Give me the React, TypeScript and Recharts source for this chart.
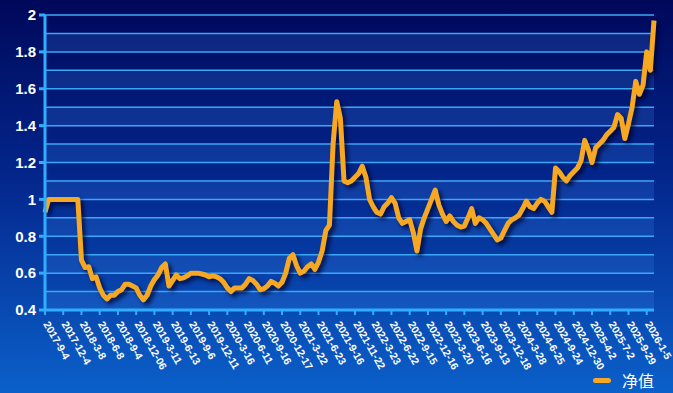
import { LineChart, Line, XAxis, YAxis, ReferenceLine, ReferenceArea, Legend } from 'recharts';

const dateLabels = [
  '2017-9-4', '2017-12-4', '2018-3-8', '2018-6-8', '2018-9-4', '2018-12-06',
  '2019-3-11', '2019-6-13', '2019-9-6', '2019-12-11', '2020-3-16', '2020-6-11',
  '2020-9-16', '2020-12-17', '2021-3-22', '2021-6-23', '2021-9-16', '2021-11-22',
  '2022-3-23', '2022-6-22', '2022-9-15', '2022-12-16', '2023-3-20', '2023-6-16',
  '2023-9-13', '2023-12-18', '2024-3-28', '2024-6-25', '2024-9-24', '2024-12-30',
  '2025-4-2', '2025-7-2', '2025-9-29', '2026-1-5',
];

// points between two date labels
const STEP = 5;

const netValue = [
  0.93, 1.0, 1.0, 1.0, 1.0, 1.0, 1.0, 1.0, 1.0, 1.0,
  0.67, 0.63, 0.635, 0.57, 0.58, 0.52, 0.48, 0.46, 0.48, 0.48,
  0.5, 0.51, 0.54, 0.54, 0.53, 0.52, 0.48, 0.455, 0.48, 0.53,
  0.565, 0.59, 0.63, 0.65, 0.53, 0.56, 0.59, 0.57, 0.575, 0.585,
  0.6, 0.6, 0.6, 0.595, 0.59, 0.58, 0.585, 0.58, 0.57, 0.55,
  0.52, 0.5, 0.52, 0.52, 0.52, 0.54, 0.57, 0.56, 0.54, 0.51,
  0.515, 0.53, 0.555, 0.545, 0.53, 0.55, 0.6, 0.68, 0.7, 0.64,
  0.6, 0.61, 0.635, 0.65, 0.62, 0.66, 0.72, 0.83, 0.86, 1.3,
  1.53, 1.44, 1.1, 1.09, 1.1, 1.12, 1.14, 1.18, 1.12, 1.0,
  0.96, 0.93, 0.92, 0.96, 0.98, 1.01, 0.98, 0.9, 0.87, 0.88,
  0.89, 0.82, 0.72, 0.84, 0.9, 0.95, 1.0, 1.05, 0.97, 0.92,
  0.88, 0.91, 0.88, 0.86, 0.85, 0.855, 0.9, 0.95, 0.87, 0.9,
  0.89, 0.87, 0.84, 0.81, 0.78, 0.79, 0.83, 0.87, 0.89, 0.9,
  0.915, 0.95, 0.99, 0.96, 0.95, 0.98, 1.0, 0.99, 0.96, 0.93,
  1.17, 1.15, 1.12, 1.1, 1.13, 1.15, 1.17, 1.21, 1.32, 1.27,
  1.2, 1.28, 1.3, 1.32, 1.35, 1.37, 1.39, 1.46, 1.44, 1.33,
  1.41, 1.5, 1.64, 1.57, 1.62, 1.8, 1.7, 1.97,
];

const yTicks = [0.4, 0.6, 0.8, 1, 1.2, 1.4, 1.6, 1.8, 2];
const gridLevels = [0.5, 0.6, 0.7, 0.8, 0.9, 1, 1.1, 1.2, 1.3, 1.4, 1.5, 1.6, 1.7, 1.8, 1.9, 2];
const lightBands = [[0.4, 0.5], [0.6, 0.7], [0.8, 0.9], [1.0, 1.1], [1.2, 1.3], [1.4, 1.5], [1.6, 1.7], [1.8, 1.9]];

const data = netValue.map((v, i) => ({ i, v }));
const xTicks = dateLabels.map((_, k) => k * STEP);

const AXIS = '#30adff';
const ORANGE = '#f7a823';

const DateTick = ({ x, y, payload }: any) => (
  <text
    x={0}
    y={0}
    transform={`translate(${x - 2},${y + 7}) rotate(60)`}
    fill="#fff"
    fontSize={10.5}
    fontWeight="bold"
    fontFamily="Liberation Sans, Arial, sans-serif"
  >
    {dateLabels[Math.round(payload.value / STEP)]}
  </text>
);

const LegendBox = ({ payload }: any) => (
  <div style={{ display: 'flex', alignItems: 'center', whiteSpace: 'nowrap' }}>
    <span style={{ width: 18, height: 5, borderRadius: 3, background: ORANGE, display: 'inline-block' }} />
    <span style={{ marginLeft: 11, color: '#fff', fontSize: 16, lineHeight: '20px', fontFamily: 'Noto Sans CJK SC' }}>
      {payload && payload[0] ? payload[0].value : ''}
    </span>
  </div>
);

export default function App() {
  return (
    <div
      style={{
        position: 'absolute',
        left: 0,
        top: 0,
        width: 673,
        height: 393,
        background: 'linear-gradient(180deg, #00085a 0%, #03268c 45%, #0b60ca 100%)',
      }}
    >
      <style>{`.recharts-line-curve { filter: drop-shadow(3px 3px 2px rgba(0, 0, 40, 0.75)); }`}</style>
      <LineChart width={673} height={393} data={data} margin={{ top: 15, right: 19, bottom: 0, left: 0 }}>
        {lightBands.map(([a, b]) => (
          <ReferenceArea key={a} y1={a} y2={b} fill="#3b82e8" fillOpacity={0.22} stroke="none" />
        ))}
        {gridLevels.map((g) => (
          <ReferenceLine key={g} y={g} stroke="#3aa8f8" strokeWidth={1.5} />
        ))}
        <XAxis
          dataKey="i"
          type="number"
          domain={[0, netValue.length - 1]}
          ticks={xTicks}
          interval={0}
          height={83}
          tick={<DateTick />}
          tickSize={5}
          axisLine={{ stroke: AXIS, strokeWidth: 3 }}
          tickLine={{ stroke: AXIS, strokeWidth: 2 }}
        />
        <YAxis
          domain={[0.4, 2]}
          ticks={yTicks}
          width={45}
          tickSize={6}
          tickMargin={3}
          tick={{ fill: '#fff', fontSize: 15, fontWeight: 'bold', fontFamily: 'Liberation Sans, Arial, sans-serif' }}
          axisLine={{ stroke: AXIS, strokeWidth: 3 }}
          tickLine={{ stroke: AXIS, strokeWidth: 3 }}
        />
        <Line
          type="linear"
          dataKey="v"
          name="净值"
          stroke={ORANGE}
          strokeWidth={5}
          strokeLinejoin="round"
          dot={false}
          isAnimationActive={false}
        />
        <Legend
          verticalAlign="middle"
          content={<LegendBox />}
          wrapperStyle={{ position: 'absolute', left: 593, top: 370, width: 72, height: 22 }}
        />
      </LineChart>
    </div>
  );
}
